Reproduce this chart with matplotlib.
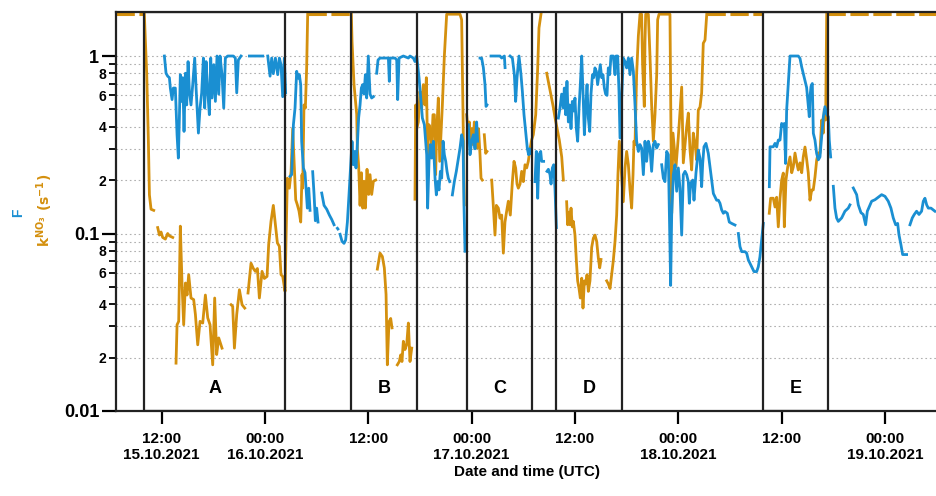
import numpy as np
import matplotlib
matplotlib.use('Agg')
import matplotlib.pyplot as plt
import matplotlib.ticker as mticker
from matplotlib.patches import Rectangle

plt.rcParams['font.family'] = ['Liberation Sans Narrow', 'Liberation Sans', 'DejaVu Sans']
plt.rcParams['font.weight'] = 'bold'

nan = np.nan

# hours since 15.10.2021 00:00 UTC, NaN = gap in the record
f_hours = [
    12.32, 12.51, 12.70, 12.90, 13.01, 13.21, 13.36, 13.59, 13.79, 13.94, 14.06, 14.17, 14.33, 14.45, 14.60, 14.76,
    14.91, 15.07, 15.22, 15.41, 15.61, 15.84, 16.0, 16.27, 16.46, 16.65, 16.85, 17.0, 17.16, 17.35, 17.54, 17.70,
    17.85, 18.05, 18.24, 18.43, 18.63, 18.78, 19.01, 19.21, 19.40, 19.67, 20.06, 20.33, 20.56, 20.72, 20.91, 21.22,
    nan, 22.19, 23.74,
    nan, 24.32, 24.59, 24.78, 24.97, 25.21, 25.48, 25.67, 25.86, 26.06, 26.25, 26.40,
    nan, 26.91, 27.10, 27.30, 27.49, 27.68, 27.88, 27.99, 28.15, 28.26, 28.46, 28.65, 28.77, 28.92, 29.08, 29.23,
    nan, 29.54, 29.70, 29.85, 30.0, 30.16,
    nan, 30.59, 30.86, 31.17, 31.48, 31.75, 32.02,
    nan, 32.41, 32.47,
    nan, 32.72, 32.95, 33.18, 33.37, 33.57, 33.76, 33.95, 34.11, 34.26, 34.42, 34.57, 34.73, 34.88, 35.04, 35.19,
    35.35, 35.50, 35.66, 35.81, 36.0, 36.20, 36.39, 36.59,
    nan, 36.97, 37.13, 37.36, 37.75, 38.33, 38.44, 38.52, 39.10, 39.30, 39.41, 39.57, 40.07, 40.65, 40.84, 41.23,
    41.42, 41.62, 41.89, 42.12, 42.28, 42.51, 42.78, 42.89, 43.05, 43.20, 43.36, 43.55, 43.75, 43.90, 44.06, 44.21,
    44.37, 44.52, 44.68, 44.83, 44.99, 45.14, 45.29, 45.45,
    nan, 45.76, 45.99, 46.22, 46.46, 46.65, 46.84, 47.0, 47.11, 47.23,
    nan, 47.62, 47.81, 48.0, 48.20, 48.39, 48.58, 48.70,
    nan, 48.97, 49.16, 49.36, 49.55, 49.67, 49.78,
    nan, 50.25, 51.29, 51.49, 51.80, 51.88,
    nan, 52.46, 52.73, 52.96, 53.11, 53.27, 53.50, 53.73, 53.89, 54.08, 54.27, 54.47, 54.62, 54.74, 54.89,
    nan, 55.36, 55.51, 55.67, 55.82, 56.02, 56.13, 56.36,
    nan, 56.75, 56.91, 57.10, 57.22, 57.37, 57.53, 57.68, 57.84,
    nan, 58.07, 58.26, 58.45, 58.65, 58.76, 58.92, 59.07, 59.23, 59.38, 59.54, 59.69, 59.85, 60.0, 60.16, 60.31,
    60.47, 60.62, 60.78, 60.93, 61.09, 61.24, 61.40, 61.55, 61.71, 61.86, 62.03, 62.17, 62.32, 62.48, 62.63, 62.79,
    62.94, 63.10, 63.25, 63.41, 63.56, 63.72, 63.87, 64.03, 64.18, 64.45, 64.65, 64.76, 64.96, 65.11, 65.23,
    65.61, 65.81, 66.0, 66.20, 66.39, 66.58, 66.78, 66.97, 67.16, 67.36, 67.55, 67.74, 67.94, 68.13, 68.32, 68.52,
    68.71, 68.90, 69.10, 69.29, 69.49, 69.68,
    nan, 70.07, 70.26, 70.45, 70.65, 70.84, 70.96, 71.11, 71.23, 71.42, 71.61, 71.81, 72.0, 72.19, 72.39, 72.58,
    72.78, 72.97, 73.16, 73.28, 73.43, 73.67, 73.82, 74.05, 74.32, 74.52, 74.71, 74.83, 74.98, 75.21, 75.48, 75.68,
    75.87, 76.07, 76.26, 76.45, 76.65, 76.84, 77.03, 77.23, 77.42, 77.69, 77.92, 78.19, 78.58,
    nan, 78.97, 79.16, 79.36, 79.74, 79.94, 80.13, 80.32, 80.52, 80.79, 81.10, 81.29, 81.48, 81.68, 81.87,
    nan, 82.57, 82.65, 82.84, 83.03, 83.23, 83.42, 83.61, 83.81, 84.0, 84.19, 84.31, 84.46, 84.58, 84.77, 84.97,
    85.16, 85.55, 85.93, 86.13, 86.32, 86.52, 86.71, 86.90, 87.02, 87.21, 87.29, 87.41, 87.56, 87.68, 87.87, 88.06,
    88.26, 88.45, 88.64, 88.84, 89.03, 89.23, 89.42, 89.53, 89.69,
    nan, 90.0, 90.19, 90.38, 90.58, 90.97, 91.35, 91.74, 91.93,
    nan, 92.32, 92.71, 92.90, 93.21, 93.48, 93.75, 93.95, 94.26, 94.45, 94.84, 95.61, 96.0, 96.38, 96.69, 96.96,
    97.24, 97.47, 97.62, 97.85, 98.05, 98.51,
    nan, 98.90, 99.17, 99.40, 99.67, 99.95, 100.25, 100.45, 100.64, 100.84, 101.03, 101.34, 101.80,
]
f_values = [
    1.0, 0.80, 0.77, 0.755, 0.66, 0.568, 0.66, 0.66, 0.36, 0.266, 0.447, 0.785, 0.555, 0.755, 0.376, 0.80,
    0.53, 0.93, 0.632, 0.53, 0.69, 0.974, 0.66, 0.368, 0.509, 0.62, 0.974, 0.509, 0.93, 0.632, 0.467, 0.974,
    0.58, 0.894, 0.555, 1.0, 0.61, 1.0, 0.785, 0.509, 0.974, 1.0, 1.0, 1.0, 0.974, 0.62, 0.95, 1.0,
    nan, 1.0, 1.0,
    nan, 1.0, 0.77, 0.974, 0.795, 0.974, 0.785, 0.974, 0.894, 0.59, 0.974, 0.62,
    nan, 0.21, 0.2145, 0.41, 0.509, 0.82, 0.75, 0.785, 0.69, 0.331, 0.234, 0.22, 0.18, 0.139, 0.18, 0.135,
    nan, 0.223, 0.166, 0.118, 0.139, 0.116,
    nan, 0.169, 0.144, 0.137, 0.127, 0.12, 0.112,
    nan, 0.107, 0.106,
    nan, 0.099, 0.0903, 0.088, 0.092, 0.116, 0.166, 0.244, 0.33, 0.244, 0.29, 0.234, 0.32, 0.45, 0.53, 0.66,
    0.69, 0.61, 0.785, 0.58, 1.0, 0.61, 0.58, 0.59,
    nan, 0.80, 0.95, 0.974, 0.974, 0.974, 0.72, 0.974, 0.974, 0.95, 0.568, 0.974, 1.0, 0.974, 1.0, 0.974,
    0.93, 1.0, 0.755, 0.555, 0.447, 0.41, 0.278, 0.139, 0.255, 0.317, 0.266, 0.331, 0.205, 0.165, 0.196, 0.176,
    0.224, 0.205, 0.331, 0.278, 0.255, 0.224, 0.205, 0.196,
    nan, 0.165, 0.196, 0.224, 0.266, 0.303, 0.36, 0.331, 0.145, 0.0794,
    nan, 0.41, 0.278, 0.331, 0.36, 0.30, 0.425, 0.331,
    nan, 0.974, 0.974, 0.86, 0.69, 0.52, 0.53,
    nan, 1.0, 1.0, 0.974, 1.0, 0.86,
    nan, 1.0, 0.974, 0.785, 0.555, 0.755, 1.0, 0.785, 0.632, 0.467, 0.376, 0.30, 0.278, 0.30, 0.283,
    nan, 0.196, 0.29, 0.158, 0.278, 0.29, 0.255, 0.255,
    nan, 0.224, 0.23, 0.2145, 0.19, 0.234, 0.244, 0.178, 0.108,
    nan, 0.447, 0.509, 0.61, 0.509, 0.66, 0.467, 0.72, 0.425, 0.53, 0.39, 0.555, 0.49, 0.58, 0.39, 0.331,
    0.509, 0.69, 1.0, 0.632, 0.36, 0.509, 0.69, 0.447, 0.376, 0.61, 0.785, 0.755, 0.857, 0.82, 0.69, 0.785,
    0.894, 0.755, 0.785, 0.66, 0.61, 0.60, 0.857, 0.785, 1.0, 1.0, 0.785, 1.0, 1.0, 0.632, 0.345,
    0.974, 0.93, 0.857, 0.974, 0.785, 0.974, 0.82, 0.53, 0.331, 0.29, 0.317, 0.303, 0.2145, 0.331, 0.255, 0.331,
    0.303, 0.224, 0.317, 0.331, 0.303, 0.317,
    nan, 0.244, 0.205, 0.196, 0.29, 0.278, 0.127, 0.051, 0.127, 0.2145, 0.244, 0.173, 0.234, 0.18, 0.098, 0.2145,
    0.224, 0.2145, 0.196, 0.148, 0.1916, 0.20, 0.154, 0.219, 0.295, 0.265, 0.1835, 0.248, 0.308, 0.322, 0.283, 0.238,
    0.20, 0.168, 0.161, 0.154, 0.154, 0.148, 0.136, 0.130, 0.133, 0.130, 0.116, 0.114, 0.1116,
    nan, 0.100, 0.0844, 0.079, 0.079, 0.0774, 0.071, 0.0679, 0.065, 0.061, 0.061, 0.065, 0.074, 0.092, 0.114,
    nan, 0.1835, 0.308, 0.308, 0.308, 0.322, 0.308, 0.336, 0.336, 0.417, 0.40, 0.417, 0.248, 0.496, 0.70, 1.0,
    1.0, 1.0, 1.0, 0.97, 0.87, 0.794, 0.73, 0.665, 0.577, 0.455, 0.59, 0.675, 0.70, 0.367, 0.336, 0.283,
    0.26, 0.27, 0.35, 0.455, 0.518, 0.47, 0.455, 0.336, 0.27,
    nan, 0.1845, 0.139, 0.1224, 0.117, 0.1224, 0.1335, 0.139, 0.145,
    nan, 0.1805, 0.1655, 0.145, 0.131, 0.128, 0.112, 0.1335, 0.145, 0.152, 0.155, 0.1655, 0.162, 0.152, 0.139, 0.1224,
    0.112, 0.114, 0.0985, 0.0865, 0.0761, 0.0761,
    nan, 0.112, 0.1224, 0.128, 0.1335, 0.128, 0.1335, 0.152, 0.158, 0.145, 0.139, 0.139, 0.1335,
]

k_hours = [
    9.99, 10.27, 10.46, 10.58, 10.77, 11.08,
    nan, 11.54, 11.74, 11.93, 12.12, 12.43, 12.70, 12.90, 13.29,
    nan, 13.67, 13.79, 13.98, 14.17, 14.37, 14.56, 14.76, 14.95, 15.14, 15.41, 15.72, 15.92, 16.19, 16.46, 16.77,
    17.08, 17.35, 17.62, 17.93, 18.16, 18.39, 18.63, 19.01,
    nan, 20.06, 20.25, 20.45, 20.72, 21.03, 21.34, 21.65,
    nan, 22.03, 22.38, 22.65, 22.88, 23.12, 23.35, 23.66, 23.93, 24.24, 24.43, 24.70, 24.97, 25.21, 25.44, 25.67,
    25.86, 26.06, 26.33, 26.44, 26.60, 26.83, 27.03, 27.22, 27.37, 27.57, 27.76, 27.95, 28.15, 28.30, 28.38, 28.53,
    28.69, 28.84, 28.96,
    nan, 34.03, 34.11, 34.34, 34.65, 34.73, 34.88, 35.04, 35.19, 35.35, 35.50, 35.66, 35.85, 36.04, 36.20, 36.39,
    36.59, 36.86,
    nan, 37.05, 37.36, 37.63, 37.86, 38.06, 38.21, 38.40, 38.60, 38.75,
    nan, 39.37, 39.60, 39.76, 39.91, 40.07, 40.26, 40.46, 40.65, 40.84, 41.04,
    nan, 41.42, 41.50, 41.62, 41.81, 42.0, 42.2, 42.39, 42.59, 42.74, 42.89, 43.05, 43.20, 43.36, 43.51, 43.67,
    43.82, 43.94, 44.13, 44.29, 44.44, 44.60, 44.83, 45.10, 46.65, 46.84, 47.04, 47.15,
    nan, 47.42, 47.62, 47.73, 47.89, 48.0, 48.16, 48.31, 48.47, 48.62, 48.80, 48.97, 49.09, 49.24,
    nan, 49.47, 49.63, 49.78,
    nan, 50.33, 50.52, 50.71, 50.87, 51.10, 51.29, 51.49, 51.68, 51.87, 52.07, 52.26, 52.49, 52.73, 52.92, 53.11,
    53.27, 53.42, 53.62, 53.81, 54.0, 54.20, 54.39, 54.58, 54.78, 54.97, 55.16, 55.44, 55.67, 55.82, 56.05,
    nan, 56.72, 57.1, 57.48, 57.68, 57.88, 58.18, 58.46, 58.65,
    nan, 59.03, 59.15, 59.31, 59.42, 59.54, 59.69, 59.81, 60.0, 60.16, 60.31, 60.47, 60.62, 60.78, 60.93, 61.09,
    61.24, 61.40, 61.55, 61.74, 61.94, 62.13, 62.32, 62.52, 62.71, 62.87, 63.02,
    nan, 63.68, 63.87, 64.07, 64.26, 64.45, 64.65, 64.84, 64.99, 65.15,
    65.61, 65.81, 66.0, 66.20, 66.39, 66.58, 66.74, 66.85, 66.97, 67.16, 67.36, 67.55, 67.74, 67.85, 68.05, 68.13,
    68.21, 68.52, 68.71, 68.90, 69.10, 69.29, 69.49, 69.60, 69.76, 71.03, 71.11, 71.23, 71.38, 71.73, 72.0, 72.39,
    72.58, 72.97, 73.16, 73.36, 73.55, 73.74, 73.94, 74.13, 74.32, 74.52, 74.71, 74.90, 75.1, 75.3,
    nan, 82.56, 82.72, 83.03, 83.23, 83.42, 83.61, 83.81, 84.0, 84.19, 84.31, 84.5, 84.70, 84.97, 85.17, 85.35,
    85.55, 85.75, 85.93, 86.13, 86.33, 86.51, 86.71, 86.91, 87.09, 87.29, 87.49, 87.67, 87.87, 88.07, 88.25, 88.45,
    88.65, 88.84, 88.95, 89.11, 89.23,
]
k_values = [
    1.72, 0.785, 0.33, 0.165, 0.137, 0.135,
    nan, 0.108, 0.098, 0.102, 0.095, 0.093, 0.1, 0.097, 0.095,
    nan, 0.0186, 0.0306, 0.032, 0.11, 0.0515, 0.0306, 0.0526, 0.045, 0.0586, 0.0433, 0.0424, 0.035, 0.0236, 0.032, 0.0313,
    0.045, 0.0335, 0.0306, 0.0182, 0.0433, 0.0208, 0.0258, 0.0226,
    nan, 0.0397, 0.0389, 0.0226, 0.035, 0.0482, 0.0397, 0.038,
    nan, 0.0462, 0.068, 0.0635, 0.0612, 0.0635, 0.0433, 0.0612, 0.0558, 0.0573, 0.0866, 0.117, 0.144, 0.112, 0.0885, 0.0847,
    0.0586, 0.0573, 0.0472, 0.09, 0.205, 0.18, 0.224, 0.39, 0.266, 0.155, 0.145, 0.134, 0.116, 0.2145, 0.18, 0.53,
    0.509, 0.857, 1.72,
    nan, 1.72, 1.21, 0.69, 0.47, 0.30, 0.24, 0.144, 0.22, 0.139, 0.197, 0.139, 0.23, 0.166, 0.2145, 0.166,
    0.197, 0.20,
    nan, 0.063, 0.0775, 0.0742, 0.064, 0.0454, 0.0182, 0.0318, 0.0332, 0.0294,
    nan, 0.0182, 0.019, 0.0207, 0.019, 0.0247, 0.0222, 0.0237, 0.0313, 0.019, 0.0226,
    nan, 0.156, 0.53, 0.39, 0.425, 0.632, 0.509, 0.69, 0.53, 0.755, 0.278, 0.41, 0.376, 0.317, 0.467, 0.467,
    0.2145, 0.376, 0.58, 0.255, 0.36, 0.53, 1.0, 1.72, 1.72, 1.6, 0.331, 0.145,
    nan, 0.467, 0.36, 0.425, 0.331, 0.39, 0.317, 0.425, 0.36, 0.303, 0.39, 0.278, 0.205, 0.2,
    nan, 0.36, 0.283, 0.29,
    nan, 0.2, 0.142, 0.098, 0.144, 0.139, 0.122, 0.127, 0.0775, 0.116, 0.134, 0.152, 0.127, 0.196, 0.255, 0.234,
    0.19, 0.18, 0.19, 0.224, 0.196, 0.244, 0.234, 0.255, 0.30, 0.337, 0.36, 0.467, 0.857, 1.44, 1.72,
    nan, 0.80, 0.643, 0.516, 0.45, 0.40, 0.336, 0.27, 0.2,
    nan, 0.151, 0.112, 0.132, 0.112, 0.139, 0.109, 0.117, 0.098, 0.0703, 0.0541, 0.049, 0.0433, 0.056, 0.038, 0.0541,
    0.052, 0.0586, 0.0472, 0.0541, 0.0835, 0.094, 0.098, 0.0903, 0.0728, 0.064, 0.0714,
    nan, 0.0541, 0.052, 0.049, 0.0586, 0.0703, 0.0903, 0.127, 0.2145, 0.331,
    0.151, 0.234, 0.29, 0.244, 0.176, 0.139, 0.2145, 0.331, 0.317, 0.795, 1.3, 1.72, 1.72, 0.9, 0.52, 1.2,
    1.72, 1.72, 1.0, 0.53, 0.331, 0.467, 0.785, 1.6, 1.72, 1.72, 0.6, 0.130, 0.368, 0.237, 0.35, 0.669,
    0.25, 0.398, 0.477, 0.295, 0.228, 0.368, 0.323, 0.26, 0.496, 0.516, 0.619, 1.18, 1.23, 1.72,
    nan, 0.130, 0.158, 0.158, 0.141, 0.16, 0.109, 0.158, 0.2, 0.219, 0.109, 0.2, 0.237, 0.27, 0.22, 0.237,
    0.284, 0.25, 0.228, 0.25, 0.22, 0.27, 0.307, 0.26, 0.22, 0.154, 0.176, 0.176, 0.208, 0.26, 0.284, 0.284,
    0.436, 0.368, 0.5, 0.436, 1.72,
]

# periods where k_NO3 is above the plotted range (drawn dashed at the top)
k_cap = 1.72
cap_start = [6.7, 28.96, 75.3, 89.23]
cap_end = [9.99, 34.03, 81.71, 102.1]

# marked periods A-E
box_names = ['A', 'B', 'C', 'D', 'E']
box_start = [9.96, 33.99, 47.46, 57.80, 81.83]
box_end = [26.33, 41.66, 55.0, 65.46, 89.38]

tick_hours = [12, 24, 36, 48, 60, 72, 84, 96]
tick_labels = ['12:00\n15.10.2021', '00:00\n16.10.2021', '12:00', '00:00\n17.10.2021',
               '12:00', '00:00\n18.10.2021', '12:00', '00:00\n19.10.2021']

assert len(f_hours) == len(f_values)
assert len(k_hours) == len(k_values)

blue = '#1a8fd2'
orange = '#d4900e'

fig = plt.figure(figsize=(9.37, 4.96), dpi=100)
ax = fig.add_axes([0.1238, 0.1714, 0.8762, 0.8044])

ax.set_yscale('log')
ax.set_ylim(0.01, 1.77)
ax.set_xlim(6.7, 102.04)

# grid
ax.grid(True, which='both', axis='y', linestyle=(0, (1.5, 2.5)), color='#b0b0b0', linewidth=0.8)
ax.set_axisbelow(True)

# data
for s, e in zip(cap_start, cap_end):
    ax.plot([s, e], [k_cap, k_cap], color=orange, lw=2.2, linestyle=(0, (6, 1.5)), solid_capstyle='butt')
ax.plot(k_hours, k_values, color=orange, lw=2.0)
ax.plot(f_hours, f_values, color=blue, lw=2.0)

# boxes
for name, s, e in zip(box_names, box_start, box_end):
    ax.add_patch(Rectangle((s, 0), e - s, 1, transform=ax.get_xaxis_transform(),
                           fill=False, edgecolor='#222222', lw=1.6, zorder=5))
    ax.text((s + e) / 2, 0.057, name, transform=ax.get_xaxis_transform(),
            ha='center', va='center', fontsize=13, fontweight='bold', color='black')

# axes styling
for side in ['left', 'bottom', 'top']:
    ax.spines[side].set_linewidth(1.6)
    ax.spines[side].set_color('#222222')
ax.spines['right'].set_visible(False)

ax.yaxis.set_major_locator(mticker.LogLocator(base=10))
ax.yaxis.set_major_formatter(mticker.FuncFormatter(lambda v, p: '{:g}'.format(v)))
ax.yaxis.set_minor_locator(mticker.LogLocator(base=10, subs=np.arange(2, 10)))


def minor_fmt(v, p):
    d = int(round(v / 10 ** np.floor(np.log10(v) + 1e-9)))
    return str(d) if d in (2, 4, 6, 8) else ''


ax.yaxis.set_minor_formatter(mticker.FuncFormatter(minor_fmt))
ax.tick_params(axis='y', which='major', length=10, width=1.6, labelsize=13, pad=2)
ax.tick_params(axis='y', which='minor', length=5, width=1.3, labelsize=10, pad=2)

ax.set_xticks(tick_hours)
ax.set_xticklabels(tick_labels)
ax.tick_params(axis='x', which='major', length=9, width=1.6, labelsize=11, pad=6)
for lab in ax.get_xticklabels() + ax.get_yticklabels(which='both'):
    lab.set_fontweight('bold')
ax.set_xlabel('Date and time (UTC)', fontsize=11, fontweight='bold', labelpad=2)

# stacked y-axis labels
fig.text(0.019, 0.571, 'F', color=blue, fontsize=10, fontweight='bold', rotation=90, ha='center', va='center')
fig.text(0.048, 0.575, r'$\mathbf{k^{NO_3}\ (s^{-1})}$', color=orange, fontsize=10,
         rotation=90, ha='center', va='center')

fig.savefig('out.png', dpi=100)
